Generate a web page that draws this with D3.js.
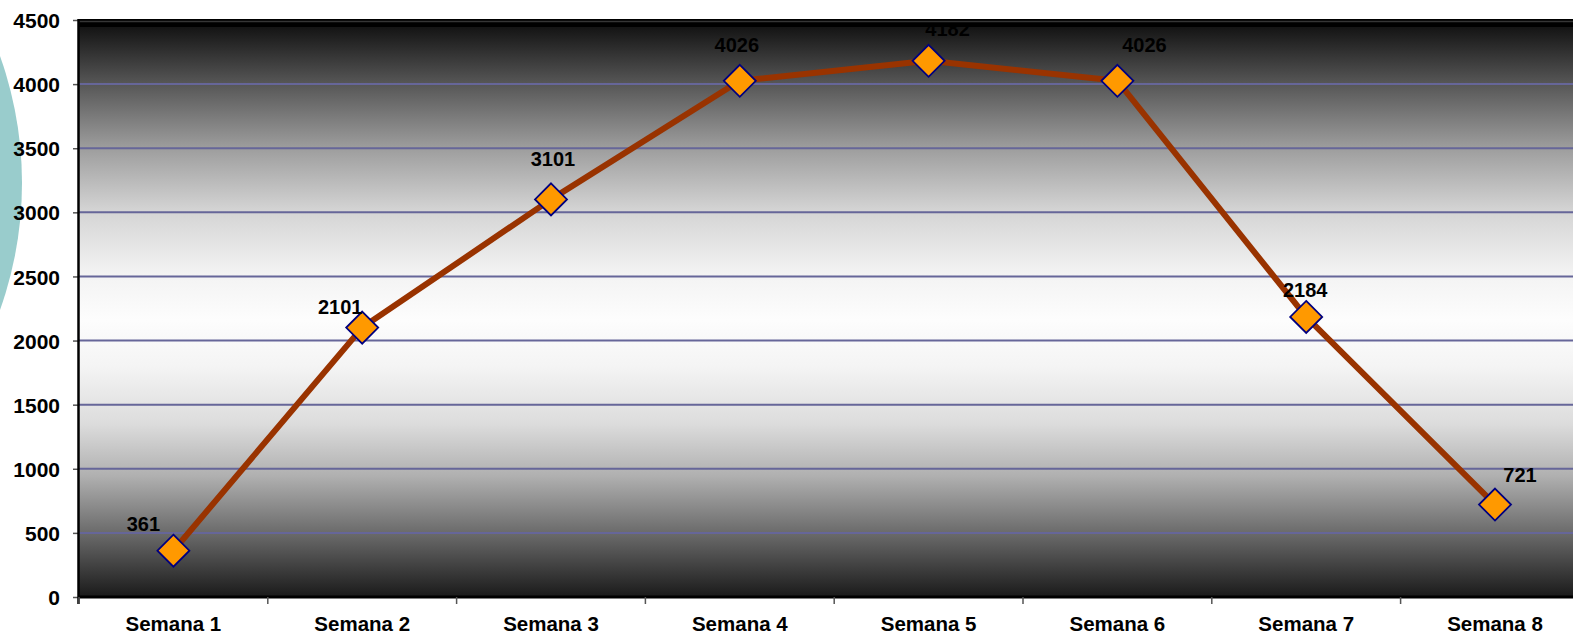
<!DOCTYPE html>
<html>
<head>
<meta charset="utf-8">
<script src="https://cdn.jsdelivr.net/npm/d3@7"></script>
<style>
  html, body { margin: 0; padding: 0; background: #fff; }
  svg { display: block; }
  text { font-family: Arial, "Liberation Sans", sans-serif; font-weight: bold; fill: #000; }
</style>
</head>
<body>
<svg id="chart" width="1573" height="634"></svg>
<script>
// Weekly totals
const categories = ["Semana 1", "Semana 2", "Semana 3", "Semana 4", "Semana 5", "Semana 6", "Semana 7", "Semana 8"];
const values = [361, 2101, 3101, 4026, 4182, 4026, 2184, 721];
const yTicks = [0, 500, 1000, 1500, 2000, 2500, 3000, 3500, 4000, 4500];

// Hand-placed data label offsets (dx, dy) relative to each marker
const labelOffsets = [[-30, -20], [-22, -14], [2, -33], [-3, -29], [19, -25], [27, -29], [-1, -20], [25, -23]];

const W = 1573, H = 634;
const plot = { left: 79, top: 20, bottom: 597, step: 188.8 };

const svg = d3.select("#chart");

const x = d3.scaleBand()
  .domain(categories)
  .range([plot.left, plot.left + plot.step * categories.length])
  .padding(0);
const y = d3.scaleLinear().domain([0, 4500]).range([plot.bottom, plot.top]);
const cx = d => x(d) + x.bandwidth() / 2;

const defs = svg.append("defs");

// Vertical black-white-black background gradient
const grad = defs.append("linearGradient")
  .attr("id", "bg")
  .attr("gradientUnits", "userSpaceOnUse")
  .attr("x1", 0).attr("x2", 0)
  .attr("y1", plot.top).attr("y2", plot.bottom);
[
  [0.00, "#0c0c0c"], [0.11, "#565656"], [0.22, "#9c9c9c"], [0.33, "#d4d4d4"],
  [0.44, "#f3f3f3"], [0.52, "#fdfdfd"], [0.60, "#f4f4f4"], [0.70, "#dcdcdc"],
  [0.79, "#b0b0b0"], [0.89, "#6a6a6a"], [1.00, "#1a1a1a"]
].forEach(([o, c]) => grad.append("stop").attr("offset", o).attr("stop-color", c));

defs.append("clipPath").attr("id", "plotClip")
  .append("rect")
  .attr("x", plot.left).attr("y", plot.top)
  .attr("width", W - plot.left).attr("height", plot.bottom - plot.top);

// Decorative teal disc at the left edge
svg.append("circle")
  .attr("cx", -355).attr("cy", 183).attr("r", 377)
  .attr("fill", "#99cccc");

// Plot background
svg.append("rect")
  .attr("x", plot.left).attr("y", plot.top)
  .attr("width", W - plot.left).attr("height", plot.bottom - plot.top)
  .attr("fill", "url(#bg)");

// Horizontal gridlines
svg.append("g")
  .selectAll("line")
  .data(yTicks.filter(v => v > 0 && v < 4500))
  .join("line")
  .attr("x1", plot.left).attr("x2", W)
  .attr("y1", d => y(d)).attr("y2", d => y(d))
  .attr("stroke", "#666699").attr("stroke-width", 2);

const inner = svg.append("g").attr("clip-path", "url(#plotClip)");

// Series line
inner.append("path")
  .datum(values)
  .attr("fill", "none")
  .attr("stroke", "#993300")
  .attr("stroke-width", 6)
  .attr("stroke-linejoin", "round")
  .attr("d", d3.line().x((d, i) => cx(categories[i])).y(d => y(d)));

// Diamond markers
const half = 16;
inner.append("g")
  .selectAll("path")
  .data(values)
  .join("path")
  .attr("transform", (d, i) => `translate(${cx(categories[i])},${y(d)})`)
  .attr("d", `M0,${-half}L${half},0L0,${half}L${-half},0Z`)
  .attr("fill", "#ff9900")
  .attr("stroke", "#000080")
  .attr("stroke-width", 1.8);

// Data labels
inner.append("g")
  .selectAll("text")
  .data(values)
  .join("text")
  .attr("x", (d, i) => cx(categories[i]) + labelOffsets[i][0])
  .attr("y", (d, i) => y(d) + labelOffsets[i][1])
  .attr("text-anchor", "middle")
  .style("font-size", "20px")
  .text(d => d);

// Dark band along the top edge of the plot
svg.append("rect")
  .attr("x", plot.left).attr("y", plot.top - 1)
  .attr("width", W - plot.left).attr("height", 8)
  .attr("fill", "#000");
svg.append("line")
  .attr("x1", plot.left).attr("x2", W)
  .attr("y1", plot.top + 1.5).attr("y2", plot.top + 1.5)
  .attr("stroke", "#363636").attr("stroke-width", 1.5);

// Bottom edge
svg.append("line")
  .attr("x1", plot.left).attr("x2", W)
  .attr("y1", plot.bottom).attr("y2", plot.bottom)
  .attr("stroke", "#000").attr("stroke-width", 3);

// Y axis
const yAxis = svg.append("g")
  .attr("transform", `translate(${plot.left},0)`)
  .call(d3.axisLeft(y).tickValues(yTicks).tickSize(6).tickPadding(13).tickFormat(d3.format("d")));
yAxis.select(".domain").remove();
yAxis.selectAll(".tick line").attr("stroke", "#555").attr("stroke-width", 1.5);
yAxis.selectAll(".tick text")
  .attr("dy", "0.36em")
  .style("font-size", "21px")
  .style("font-family", "Arial, 'Liberation Sans', sans-serif")
  .style("font-weight", "bold")
  .attr("fill", "#000");

svg.append("line")
  .attr("x1", plot.left - 0.5).attr("x2", plot.left - 0.5)
  .attr("y1", plot.top - 1).attr("y2", plot.bottom + 7)
  .attr("stroke", "#000").attr("stroke-width", 2.5);

// X axis tick marks at category boundaries
const bounds = categories.map(c => x(c)).concat([x(categories[categories.length - 1]) + x.bandwidth()]);
svg.append("g")
  .selectAll("line")
  .data(bounds)
  .join("line")
  .attr("x1", d => d).attr("x2", d => d)
  .attr("y1", plot.bottom).attr("y2", plot.bottom + 7)
  .attr("stroke", "#555").attr("stroke-width", 1.5);

// Category labels
svg.append("g")
  .selectAll("text")
  .data(categories)
  .join("text")
  .attr("x", d => cx(d))
  .attr("y", 630.5)
  .attr("text-anchor", "middle")
  .style("font-size", "20.5px")
  .text(d => d);
</script>
</body>
</html>
